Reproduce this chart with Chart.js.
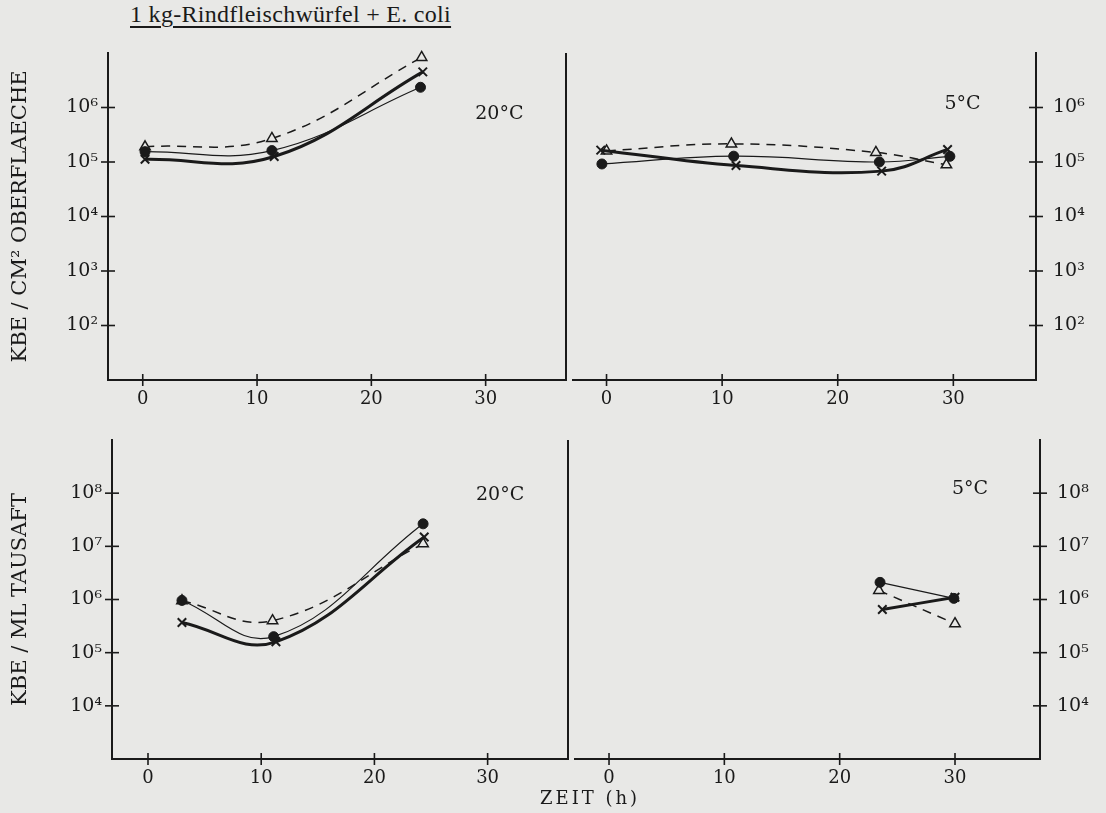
<!DOCTYPE html>
<html>
<head>
<meta charset="utf-8">
<script src="https://cdn.jsdelivr.net/npm/chart.js@4.4.0/dist/chart.umd.min.js"></script>
<style>
  body { margin: 0; background: #e8e8e6; width: 1106px; height: 813px; position: relative; overflow: hidden; }
  canvas { position: absolute; }
  #title { position: absolute; left: 130px; top: 1px; font: 24px "Liberation Serif", serif; color: #1a1a1a;
           letter-spacing: 0.3px; text-decoration: underline; text-underline-offset: 4px; white-space: nowrap; }
  #xlabel { position: absolute; left: 540px; top: 787px; font: 18px "DejaVu Serif"; letter-spacing: 3px; color: #1a1a1a; }
</style>
</head>
<body>
<div id="title">1 kg-Rindfleischwürfel + E. coli</div>
<canvas id="tl" width="574" height="385" style="left:0px;top:40px"></canvas>
<canvas id="tr" width="546" height="385" style="left:560px;top:40px"></canvas>
<canvas id="bl" width="576" height="376" style="left:0px;top:428px"></canvas>
<canvas id="br" width="544" height="376" style="left:562px;top:428px"></canvas>
<div id="xlabel">ZEIT (h)</div>
<script>
// x ticks (hours) shared by all panels
const hourTicks = [0, 10, 20, 30];
const surfTicks = [1e2, 1e3, 1e4, 1e5, 1e6];     // KBE / cm² Oberflaeche
const juiceTicks = [1e4, 1e5, 1e6, 1e7, 1e8];    // KBE / ml Tausaft

// top left: surface, 20°C
const tlDotT = [0.2, 11.3, 24.3];
const tlDotV = [1.55e5, 1.62e5, 2.35e6];
const tlCrossT = [0.2, 11.5, 24.5];
const tlCrossV = [1.12e5, 1.26e5, 4.5e6];
const tlTriT = [0.2, 11.3, 24.4];
const tlTriV = [1.9e5, 2.7e5, 8.3e6];

// top right: surface, 5°C
const trDotT = [-0.4, 11.0, 23.6, 29.7];
const trDotV = [9.2e4, 1.28e5, 1.0e5, 1.27e5];
const trCrossT = [-0.5, 11.2, 23.8, 29.5];
const trCrossV = [1.65e5, 8.6e4, 6.8e4, 1.7e5];
const trTriT = [0.0, 10.8, 23.3, 29.4];
const trTriV = [1.6e5, 2.15e5, 1.5e5, 8.9e4];

// bottom left: thaw juice, 20°C
const blDotT = [3.0, 11.1, 24.3];
const blDotV = [9.6e5, 2.0e5, 2.65e7];
const blCrossT = [3.0, 11.3, 24.4];
const blCrossV = [3.7e5, 1.6e5, 1.5e7];
const blTriT = [3.0, 11.0, 24.3];
const blTriV = [9.5e5, 4.0e5, 1.12e7];

// bottom right: thaw juice, 5°C
const brDotT = [23.5, 29.9];
const brDotV = [2.1e6, 1.05e6];
const brCrossT = [23.7, 30.0];
const brCrossV = [6.5e5, 1.1e6];
const brTriT = [23.4, 30.0];
const brTriV = [1.48e6, 3.5e5];

const INK = '#1a1a1a';
const PAPER = '#e8e8e6';
const SUP = {'0':'⁰','1':'¹','2':'²','3':'³','4':'⁴','5':'⁵','6':'⁶','7':'⁷','8':'⁸','9':'⁹'};

Chart.defaults.font.family = '"DejaVu Serif", serif';
Chart.defaults.font.size = 18;
Chart.defaults.color = INK;

function series(t, v, kind) {
  const base = {
    data: t.map((x, i) => ({x: x, y: v[i]})),
    tension: 0.4, borderColor: INK, pointBorderColor: INK, fill: false, clip: false
  };
  if (kind === 'dot') {
    return Object.assign(base, {borderWidth: 1.2, pointStyle: 'circle', pointRadius: 5,
      pointBackgroundColor: INK, pointBorderWidth: 1});
  }
  if (kind === 'cross') {
    return Object.assign(base, {borderWidth: 3, pointStyle: 'crossRot', pointRadius: 6,
      pointBorderWidth: 2});
  }
  return Object.assign(base, {borderWidth: 1.5, borderDash: [9, 7], pointStyle: 'triangle',
    pointRadius: 6, pointBackgroundColor: PAPER, pointBorderWidth: 1.5});
}

// scales should not add their own label padding to the chart area
function noPad(s) {
  s.paddingTop = 0; s.paddingBottom = 0; s.paddingLeft = 0; s.paddingRight = 0;
}

// tick crosses, middle divider and the temperature label
function decor(o) {
  return {
    id: 'decor',
    afterDraw(chart) {
      const ctx = chart.ctx, a = chart.chartArea, x = chart.scales.x, y = chart.scales.y;
      const seg = (x1, y1, x2, y2) => { ctx.beginPath(); ctx.moveTo(x1, y1); ctx.lineTo(x2, y2); ctx.stroke(); };
      ctx.save();
      ctx.strokeStyle = INK;
      ctx.lineWidth = 1.6;
      x.ticks.forEach(t => { const px = x.getPixelForValue(t.value); seg(px, a.bottom - 6, px, a.bottom + 6); });
      const ax = o.right ? a.right : a.left;
      y.ticks.forEach(t => { const py = y.getPixelForValue(t.value); seg(ax - 7, py, ax + 7, py); });
      if (o.divider) { ctx.lineWidth = 2; seg(a.right, a.top, a.right, a.bottom + 1); }
      ctx.fillStyle = INK;
      ctx.font = '19px "DejaVu Serif"';
      ctx.textAlign = 'center';
      ctx.textBaseline = 'middle';
      ctx.fillText(o.temp, x.getPixelForValue(o.tempAt[0]), y.getPixelForValue(o.tempAt[1]));
      ctx.restore();
    }
  };
}

function panel(id, o) {
  return new Chart(document.getElementById(id), {
    type: 'line',
    data: {
      datasets: [
        series(o.dot[0], o.dot[1], 'dot'),
        series(o.cross[0], o.cross[1], 'cross'),
        series(o.tri[0], o.tri[1], 'tri')
      ]
    },
    options: {
      responsive: false,
      animation: false,
      devicePixelRatio: 1,
      layout: {padding: o.pad},
      plugins: {legend: {display: false}, tooltip: {enabled: false}},
      scales: {
        x: {
          type: 'linear', min: o.xr[0], max: o.xr[1],
          afterBuildTicks: s => { s.ticks = hourTicks.map(v => ({value: v})); },
          afterFit: s => { s.height = 45; noPad(s); },
          grid: {drawOnChartArea: false, drawTicks: false},
          border: {display: true, width: 2, color: INK},
          ticks: {padding: 9, color: INK, font: {size: 18}, callback: v => String(v)}
        },
        y: {
          type: 'logarithmic', position: o.right ? 'right' : 'left',
          min: o.yr[0], max: o.yr[1],
          afterBuildTicks: s => { s.ticks = o.yt.map(v => ({value: v})); },
          afterFit: s => { s.width = o.yw; noPad(s); },
          grid: {drawOnChartArea: false, drawTicks: false},
          border: {display: true, width: 2, color: INK},
          ticks: {padding: o.right ? 17 : 10, color: INK, font: {size: 19},
            callback: v => '10' + String(Math.round(Math.log10(v))).split('').map(c => SUP[c]).join('')},
          title: {display: !!o.ytitle, text: o.ytitle || '', color: INK,
            font: {size: 21}, padding: {top: 8, bottom: 0}}
        }
      }
    },
    plugins: [decor(o)]
  });
}

panel('tl', {
  dot: [tlDotT, tlDotV], cross: [tlCrossT, tlCrossV], tri: [tlTriT, tlTriV],
  xr: [-3.04, 37.03], yr: [1e1, 1e7], yt: surfTicks, yw: 108,
  pad: {top: 13, right: 1, left: 0, bottom: 0},
  ytitle: 'KBE / CM² OBERFLAECHE', divider: true, temp: '20°C', tempAt: [31.2, 7.6e5]
});
panel('tr', {
  dot: [trDotT, trDotV], cross: [trCrossT, trCrossV], tri: [trTriT, trTriV],
  xr: [-2.9, 37.15], yr: [1e1, 1e7], yt: surfTicks, yw: 70, right: true,
  pad: {top: 13, right: 0, left: 13, bottom: 0},
  temp: '5°C', tempAt: [30.8, 1.18e6]
});
panel('bl', {
  dot: [blDotT, blDotV], cross: [blCrossT, blCrossV], tri: [blTriT, blTriV],
  xr: [-3.18, 37.1], yr: [1e3, 1e9], yt: juiceTicks, yw: 112,
  pad: {top: 12, right: 1, left: 0, bottom: 0},
  ytitle: 'KBE / ML TAUSAFT', divider: true, temp: '20°C', tempAt: [31.1, 9.1e7]
});
panel('br', {
  dot: [brDotT, brDotV], cross: [brCrossT, brCrossV], tri: [brTriT, brTriV],
  xr: [-2.95, 37.37], yr: [1e3, 1e9], yt: juiceTicks, yw: 66, right: true,
  pad: {top: 12, right: 0, left: 13, bottom: 0},
  temp: '5°C', tempAt: [31.3, 1.17e8]
});
</script>
</body>
</html>
